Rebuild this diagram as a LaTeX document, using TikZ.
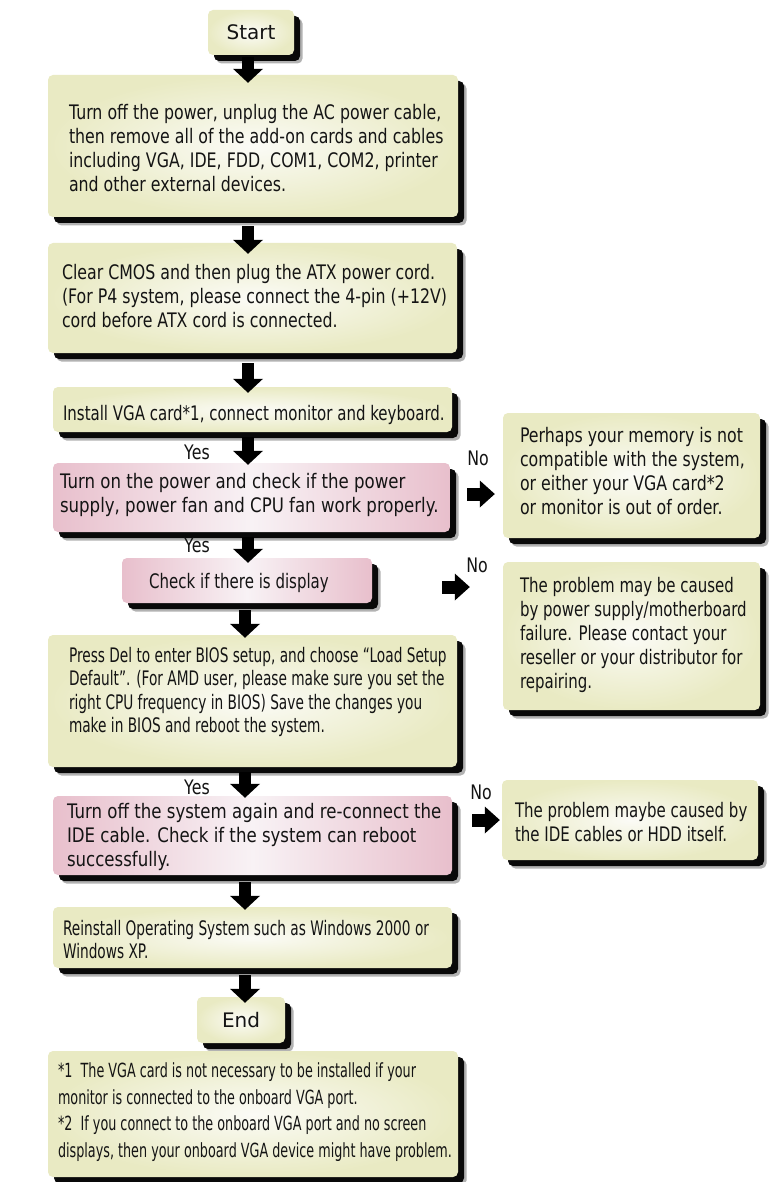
\documentclass[tikz,border=0pt]{standalone}
\usepackage{fontspec}
\setmainfont{DejaVu Sans}
\newfontfamily\fA[FakeStretch=0.79]{DejaVu Sans}
\newfontfamily\fP[FakeStretch=0.83]{DejaVu Sans}
\newfontfamily\fI[FakeStretch=0.75]{DejaVu Sans}
\newfontfamily\fN[FakeStretch=0.685]{DejaVu Sans}
\newfontfamily\fF[FakeStretch=0.655]{DejaVu Sans}
\newfontfamily\fT{DejaVu Sans}
\usetikzlibrary{shadows,arrows.meta,calc}
\definecolor{yfill}{HTML}{E9EAC3}
\definecolor{ycenter}{HTML}{FBFBF6}
\definecolor{pfill}{HTML}{E8BFCC}
\definecolor{pcenter}{HTML}{F8F2F5}
\definecolor{ink}{HTML}{141414}
\begin{document}
\begin{tikzpicture}[x=1pt,y=-1pt,
  boxbase/.style={rounded corners=5pt, inner sep=0pt, draw=none,
    general shadow={shadow xshift=8.5pt,shadow yshift=-8.5pt,opacity=0.3,fill=black},
    general shadow={shadow xshift=6pt,shadow yshift=-6pt,opacity=0.95,fill=black}},
  ybox/.style={boxbase, inner color=ycenter, outer color=yfill},
  pbox/.style={boxbase, left color=pfill, right color=pfill, middle color=pcenter},
  txt/.style={inner sep=0pt, align=left, text=ink, anchor=west},
  fontA/.style={font=\fA\fontsize{20}{24}\selectfont},
  fontP/.style={font=\fP\fontsize{20}{24}\selectfont},
  fontI/.style={font=\fI\fontsize{20}{24}\selectfont},
  fontN/.style={font=\fN\fontsize{20}{23.5}\selectfont},
  fontF/.style={font=\fF\fontsize{19.5}{26.7}\selectfont},
  fontT/.style={font=\fT\fontsize{20}{24}\selectfont},
  lbl/.style={inner sep=0pt, text=ink, font=\fA\fontsize{20}{24}\selectfont},
  flow/.style={line width=12pt, draw=black, -{Triangle[width=30pt,length=14pt,line width=0pt]}},
  hflow/.style={line width=13pt, draw=black, -{Triangle[width=27pt,length=15pt,line width=0pt]}}
]
\fill[white] (0,0) rectangle (776,1182);
\useasboundingbox (0,0) rectangle (776,1182);

\coordinate (ax) at (248,0);
\coordinate (bx) at (245,0);

% main column boxes
\node[ybox, minimum width=86pt, minimum height=45pt, fontT, text=ink] (start) at (251,32.5) {Start};
\node[ybox, minimum width=410pt, minimum height=142pt] (b1) at (253,146) {};
\node[ybox, minimum width=409pt, minimum height=110pt] (b2) at (252.5,298) {};
\node[ybox, minimum width=399pt, minimum height=45pt] (b3) at (252.5,409.5) {};
\node[pbox, minimum width=397pt, minimum height=69pt] (p1) at (251.5,497.5) {};
\node[pbox, minimum width=250pt, minimum height=45pt] (p2) at (247,580.5) {};
\node[ybox, minimum width=409pt, minimum height=132pt] (b4) at (252.5,701) {};
\node[pbox, minimum width=399pt, minimum height=79pt] (p3) at (252.5,835.5) {};
\node[ybox, minimum width=399pt, minimum height=61pt] (b5) at (252.5,937.5) {};
\node[ybox, minimum width=88pt, minimum height=46pt, fontT, text=ink] (end) at (241,1020) {End};
\node[ybox, minimum width=410pt, minimum height=126pt] (fn) at (253,1114) {};

% right column boxes
\node[ybox, minimum width=257pt, minimum height=125pt] (r1) at (631.5,475.5) {};
\node[ybox, minimum width=257pt, minimum height=148pt] (r2) at (631.5,636) {};
\node[ybox, minimum width=256pt, minimum height=80pt] (r3) at (630,820) {};

% texts
\node[txt, fontA] (b1t) at ($(b1.west)+(21,2)$) {Turn off the power, unplug the AC power cable,\\then remove all of the add-on cards and cables\\including VGA, IDE, FDD, COM1, COM2, printer\\and other external devices.};
\node[txt, fontA] (b2t) at ($(b2.west)+(14,-2)$) {Clear CMOS and then plug the ATX power cord.\\(For P4 system, please connect the 4-pin (+12V)\\cord before ATX cord is connected.};
\node[txt, fontI] (b3t) at ($(b3.west)+(10,5)$) {Install VGA card*1, connect monitor and keyboard.};
\node[txt, fontP] (p1t) at ($(p1.west)+(7,-2.5)$) {Turn on the power and check if the power\\supply, power fan and CPU fan work properly.};
\node[inner sep=0pt, text=ink, fontI] (p2t) at ($(p2.center)+(-8,2.5)$) {Check if there is display};
\node[txt, fontN] (b4t) at ($(b4.west)+(21,-9)$) {Press Del to enter BIOS setup, and choose “Load Setup\\Default”. (For AMD user, please make sure you set the\\right CPU frequency in BIOS) Save the changes you\\make in BIOS and reboot the system.};
\node[txt, fontP] (p3t) at ($(p3.west)+(14,1.5)$) {Turn off the system again and re-connect the\\IDE cable. Check if the system can reboot\\successfully.};
\node[txt, fontN] (b5t) at ($(b5.west)+(10,2)$) {Reinstall Operating System such as Windows 2000 or\\Windows XP.};
\node[txt, fontF] (fnt) at ($(fn.west)+(10,-2)$) {*1\ \ The VGA card is not necessary to be installed if your\\monitor is connected to the onboard VGA port.\\*2\ \ If you connect to the onboard VGA port and no screen\\displays, then your onboard VGA device might have problem.};
\node[txt, fontA] (r1t) at ($(r1.west)+(17,-4)$) {Perhaps your memory is not\\compatible with the system,\\or either your VGA card*2\\or monitor is out of order.};
\node[txt, fontI] (r2t) at ($(r2.west)+(17,-1)$) {The problem may be caused\\by power supply/motherboard\\failure. Please contact your\\reseller or your distributor for\\repairing.};
\node[txt, fontI] (r3t) at ($(r3.west)+(13,2)$) {The problem maybe caused by\\the IDE cables or HDD itself.};

% labels
\node[lbl] (yes1) at (197,452) {Yes};
\node[lbl] (no1) at (478,458) {No};
\node[lbl] (yes2) at (197,545) {Yes};
\node[lbl] (no2) at (477,565) {No};
\node[lbl] (yes3) at (197,787) {Yes};
\node[lbl] (no3) at (481,792) {No};

% down arrows
\draw[flow] ([yshift=-2pt]ax |- start.south) -- ([yshift=-8pt]ax |- b1.north);
\draw[flow] ([yshift=-9pt]ax |- b1.south) -- ([yshift=-11pt]ax |- b2.north);
\draw[flow] ([yshift=-10pt]ax |- b2.south) -- ([yshift=-6pt]ax |- b3.north);
\draw[flow] ([yshift=-5pt]ax |- b3.south) -- ([yshift=-2pt]ax |- p1.north);
\draw[flow] ([yshift=-5pt]ax |- p1.south) -- ([yshift=-5pt]ax |- p2.north);
\draw[flow] ([yshift=-7pt]bx |- p2.south) -- ([yshift=-3pt]bx |- b4.north);
\draw[flow] ([yshift=-5pt]bx |- b4.south) -- ([yshift=-2pt]bx |- p3.north);
\draw[flow] ([yshift=-7pt]bx |- p3.south) -- ([yshift=-3pt]bx |- b5.north);
\draw[flow] ([yshift=-7pt]bx |- b5.south) -- ([yshift=-6pt]bx |- end.north);

% right arrows
\draw[hflow] ($(p1.east)+(17,-3.5)$) -- ($(r1.west |- p1.east)+(-8,-3.5)$);
\draw[hflow] ($(p2.east)+(70,6.5)$) -- ($(r2.west |- p2.east)+(-33,6.5)$);
\draw[hflow] ($(p3.east |- r3.west)+(20,0)$) -- ($(r3.west)+(-2,0)$);
\end{tikzpicture}
\end{document}
